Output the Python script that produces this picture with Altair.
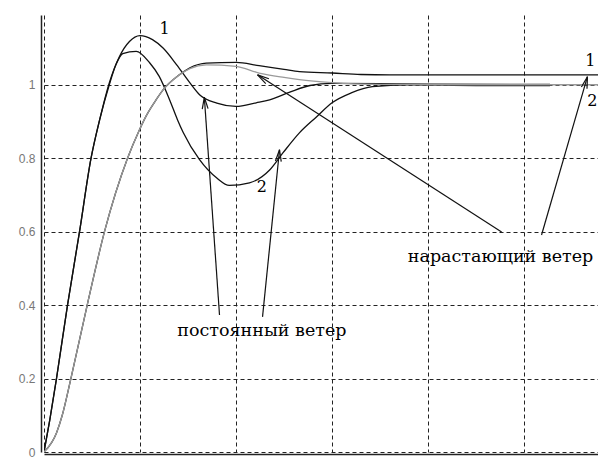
import altair as alt
import pandas as pd
import numpy as np

# ---- data ----
# constant wind, response 1
cw1_t = [0, 0.06, 0.13, 0.245, 0.37, 0.49, 0.58, 0.68, 0.786, 0.89, 1.0, 1.13, 1.24, 1.38,
         1.52, 1.62, 1.8, 2.0, 2.21, 2.35, 2.56, 2.77, 3.0, 3.5, 4.0, 5.27]
cw1_y = [0, 0.087, 0.2, 0.4, 0.6, 0.8, 0.905, 1.005, 1.077, 1.118, 1.134, 1.123, 1.10, 1.055,
         1.005, 0.973, 0.95, 0.941, 0.951, 0.959, 0.98, 0.998, 1.004, 1.003, 1.002, 1.001]
# constant wind, response 2
cw2_t = [0, 0.06, 0.13, 0.245, 0.37, 0.49, 0.58, 0.68, 0.75, 0.82, 0.96, 1.1, 1.2, 1.31, 1.39,
         1.45, 1.62, 1.8, 1.93, 2.14, 2.35, 2.49, 2.66, 2.84, 3.0, 3.2, 3.42, 3.8, 4.5, 5.27]
cw2_y = [0, 0.087, 0.2, 0.4, 0.6, 0.8, 0.905, 1.0, 1.055, 1.085, 1.091, 1.06, 1.023, 0.958, 0.905,
         0.87, 0.796, 0.746, 0.726, 0.733, 0.768, 0.815, 0.869, 0.913, 0.951, 0.978, 0.995, 1.0, 0.998, 0.998]
# increasing wind, response 1 (black)
iw1_t = [0, 0.13, 0.19, 0.28, 0.45, 0.63, 0.87, 0.99, 1.07, 1.17, 1.24, 1.41, 1.52, 1.69, 2.0,
         2.24, 2.5, 2.66, 3.0, 3.3, 3.6, 5.8]
iw1_y = [0, 0.052, 0.1, 0.2, 0.4, 0.6, 0.8, 0.875, 0.918, 0.96, 0.986, 1.027, 1.046, 1.059, 1.061,
         1.052, 1.042, 1.036, 1.032, 1.028, 1.027, 1.027]
# increasing wind, response 2 (grey)
iw2_t = [0, 0.13, 0.19, 0.28, 0.45, 0.63, 0.87, 0.99, 1.07, 1.17, 1.24, 1.41, 1.52, 1.69, 2.0,
         2.24, 2.5, 2.66, 3.0, 3.5, 4.0, 5.8]
iw2_y = [0, 0.052, 0.1, 0.2, 0.4, 0.6, 0.8, 0.875, 0.918, 0.96, 0.986, 1.027, 1.044, 1.054, 1.05,
         1.032, 1.02, 1.014, 1.006, 1.001, 1.0, 1.0]

x_ticks = [0, 1, 2, 3, 4, 5]
y_ticks = [0, 0.2, 0.4, 0.6, 0.8, 1]

# annotations
text_labels = ["постоянный ветер", "нарастающий ветер"]
text_t = [2.27, 4.755]
text_y = [0.33, 0.531]
num_labels = ["1", "2", "1", "2"]
num_t = [1.255, 2.27, 5.69, 5.71]
num_y = [1.152, 0.722, 1.065, 0.955]
arrow_tail_t = [1.828, 2.276, 4.766, 5.182]
arrow_tail_y = [0.373, 0.368, 0.599, 0.591]
arrow_head_t = [1.67, 2.453, 2.224, 5.66]
arrow_head_y = [0.966, 0.823, 1.027, 1.022]

# ---- layout ----
W, H = 554, 437
XMAX, YMAX = 5.77, 1.19
sx, sy = W / XMAX, H / YMAX

def curve(t, y, name):
    return pd.DataFrame({"t": t, "y": y, "series": name})

black_df = pd.concat([curve(iw1_t, iw1_y, "iw1"), curve(cw1_t, cw1_y, "cw1"),
                      curve(cw2_t, cw2_y, "cw2")])
grey_df = curve(iw2_t, iw2_y, "iw2")

# arrows: shaft + two head wings
segs = []
for tt, ty, ht, hy in zip(arrow_tail_t, arrow_tail_y, arrow_head_t, arrow_head_y):
    segs.append((tt, ty, ht, hy))
    dx, dy = (tt - ht) * sx, (ty - hy) * sy
    n = np.hypot(dx, dy)
    ux, uy = dx / n, dy / n
    for a in (np.radians(14), -np.radians(14)):
        wx = ux * np.cos(a) - uy * np.sin(a)
        wy = ux * np.sin(a) + uy * np.cos(a)
        segs.append((ht, hy, ht + wx * 12 / sx, hy + wy * 12 / sy))
seg_df = pd.DataFrame(segs, columns=["t", "y", "t2", "y2"])

text_df = pd.DataFrame({"t": text_t, "y": text_y, "label": text_labels})
num_df = pd.DataFrame({"t": num_t, "y": num_y, "label": num_labels})

xs = alt.Scale(domain=[0, XMAX], nice=False, zero=False)
ys = alt.Scale(domain=[0, YMAX], nice=False, zero=False)

xaxis = alt.Axis(values=x_ticks, format="d", title=None, grid=True, gridDash=[4, 3],
                 gridColor="#222", gridWidth=1, domainColor="#222", domainWidth=1.5,
                 ticks=False, labelColor="#777", labelFont="Liberation Sans", labelFontSize=12,
                 labelPadding=7, offset=2)
yaxis = alt.Axis(values=y_ticks, format="~g", title=None, grid=True, gridDash=[4, 3],
                 gridColor="#222", gridWidth=1, domainColor="#222", domainWidth=1.5,
                 ticks=False, labelColor="#777", labelFont="Liberation Sans", labelFontSize=12,
                 labelPadding=6, offset=3)

base_grid = alt.Chart(pd.DataFrame({"t": [0], "y": [0]})).mark_point(opacity=0).encode(
    x=alt.X("t:Q", scale=xs, axis=xaxis), y=alt.Y("y:Q", scale=ys, axis=yaxis))

black = alt.Chart(black_df).mark_line(color="#111", strokeWidth=1.3, clip=True,
                                      interpolate="monotone").encode(
    x=alt.X("t:Q", scale=xs), y=alt.Y("y:Q", scale=ys), detail="series:N")
grey = alt.Chart(grey_df).mark_line(color="#9a9a9a", strokeWidth=1.3, clip=True,
                                    interpolate="monotone").encode(
    x=alt.X("t:Q", scale=xs), y=alt.Y("y:Q", scale=ys))

arrows = alt.Chart(seg_df).mark_rule(color="#111", strokeWidth=1.2).encode(
    x=alt.X("t:Q", scale=xs), y=alt.Y("y:Q", scale=ys), x2="t2:Q", y2="y2:Q")

texts = alt.Chart(text_df).mark_text(font="DejaVu Serif", fontSize=17.5, color="#000",
                                     baseline="middle", align="center").encode(
    x=alt.X("t:Q", scale=xs), y=alt.Y("y:Q", scale=ys), text="label:N")
nums = alt.Chart(num_df).mark_text(font="DejaVu Serif", fontSize=16, color="#000",
                                   baseline="middle", align="center").encode(
    x=alt.X("t:Q", scale=xs), y=alt.Y("y:Q", scale=ys), text="label:N")

chart = alt.layer(base_grid, black, grey, arrows, texts, nums).properties(
    width=W, height=H,
    autosize=alt.AutoSizeParams(type="none"),
    padding={"left": 36, "top": 7, "right": 0, "bottom": 6},
    background="white",
).configure_view(stroke=None)

chart.save("out.html", embed_options={"renderer": "svg", "actions": False})
